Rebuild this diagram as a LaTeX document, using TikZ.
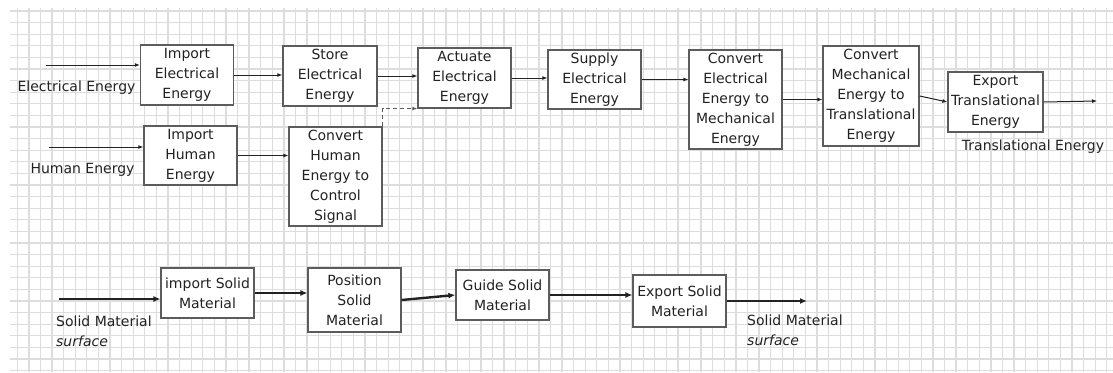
\documentclass[tikz,border=0pt]{standalone}
\usepackage{fontspec}
\setmainfont{DejaVu Sans}
\usetikzlibrary{arrows.meta}
\definecolor{gridgray}{HTML}{DDDDDD}
\definecolor{boxgray}{HTML}{5C5C5C}
\definecolor{ink}{HTML}{222222}

\begin{document}
\begin{tikzpicture}[x=1pt, y=-1pt,
      gridline/.style={draw=gridgray, line width=1.3pt},
      box/.style={draw=boxgray, line width=1.2pt, fill=white, align=center, inner sep=1pt,
                  text=ink, font=\fontsize{14}{20}\selectfont, minimum width=93pt},
      lbl/.style={text=ink, font=\fontsize{14}{20}\selectfont, inner sep=1pt},
      flow/.style={draw=ink, line width=1pt, -{Latex[length=5pt,width=4pt]}},
      matflow/.style={draw=ink, line width=2.4pt, -{Latex[length=7pt,width=6pt]}}
    ]
    % paper
    \useasboundingbox (0,0) rectangle (1113,372);
    \fill[white] (0,0) rectangle (1113,372);
    \foreach \i in {0,...,94}
      \draw[gridline] (17.3+11.59*\i,8) -- (17.3+11.59*\i,372);
    \foreach \j in {0,...,31}
      \draw[gridline] (10,11+11.6*\j) -- (1113,11+11.6*\j);

    % Electrical energy chain
    \node[box, minimum height=60pt] (impE) at (187,75) {Import\\Electrical\\Energy};
    \node[box, minimum width=94pt, minimum height=60pt] (storE) at (330,76) {Store\\Electrical\\Energy};
    \node[box, minimum height=60pt] (actE) at (464.5,78) {Actuate\\Electrical\\Energy};
    \node[box, minimum height=59pt] (supE) at (594.5,79.5) {Supply\\Electrical\\Energy};
    \node[box, minimum height=99pt] (convEM) at (735.5,99.5) {Convert\\Electrical\\Energy to\\Mechanical\\Energy};
    \node[box, minimum width=96pt, minimum height=100pt] (convMT) at (871,96) {Convert\\Mechanical\\Energy to\\Translational\\Energy};
    \node[box, minimum width=95pt, minimum height=60pt] (expT) at (995.5,102) {Export\\Translational\\Energy};

    % Human energy chain
    \node[box, minimum height=59pt] (impH) at (190.5,155.5) {Import\\Human\\Energy};
    \node[box, minimum height=99pt] (convH) at (335.5,176.5) {Convert\\Human\\Energy to\\Control\\Signal};

    % Solid material chain
    \node[box, minimum height=50pt] (impS) at (207.5,293) {import Solid\\Material};
    \node[box, minimum height=64pt] (posS) at (354.5,300) {Position\\Solid\\Material};
    \node[box, minimum height=50pt] (guiS) at (502.5,295) {Guide Solid\\Material};
    \node[box, minimum height=52pt] (expS) at (679.5,301) {Export Solid\\Material};

    % flow labels
    \node[lbl] (lElec) at (76.5,88) {Electrical Energy};
    \node[lbl] (lHum) at (82.5,170) {Human Energy};
    \node[lbl] (lTrans) at (1033,147) {Translational Energy};
    \node[lbl, align=left, anchor=west] (lSin) at (55,331) {Solid Material\\\textit{surface}};
    \node[lbl, align=left, anchor=west] (lSout) at (746,330) {Solid Material\\\textit{surface}};

    % free ends
    \coordinate (ein) at (46,65);
    \coordinate (hin) at (49,147);
    \coordinate (tout) at (1097,101);
    \coordinate (sin) at (59,299);
    \coordinate (sout) at (807,301);

    % energy connectors
    \draw[flow] (ein) -- (ein -| impE.west);
    \draw[flow] (impE.east) -- (impE.east -| storE.west);
    \draw[flow] (storE.east) -- (storE.east -| actE.west);
    \draw[flow] (actE.east) -- (actE.east -| supE.west);
    \draw[flow] (supE.east) -- (supE.east -| convEM.west);
    \draw[flow] (convEM.east) -- (convEM.east -| convMT.west);
    \draw[flow] (convMT.east) -- (expT.west);
    \draw[flow] (expT.east) -- (tout);
    \draw[flow] (hin) -- (hin -| impH.west);
    \draw[flow] (impH.east) -- (impH.east -| convH.west);
    \draw[flow, draw=boxgray, dash pattern=on 4pt off 3pt] (convH.north east) |- (actE.south west);

    % material connectors
    \draw[matflow] (sin) -- (sin -| impS.west);
    \draw[matflow] (impS.east) -- (impS.east -| posS.west);
    \draw[matflow] (posS.east) -- (guiS.west);
    \draw[matflow] (guiS.east) -- (guiS.east -| expS.west);
    \draw[matflow] (expS.east) -- (sout);
  \end{tikzpicture}
\end{document}
